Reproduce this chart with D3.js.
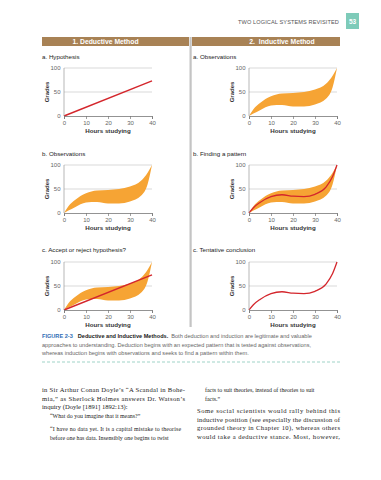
<!DOCTYPE html>
<html>
<head>
<meta charset="utf-8">
<script src="https://cdn.jsdelivr.net/npm/d3@7"></script>
<style>
  body { margin: 0; background: #fff; }
  svg { display: block; }
</style>
</head>
<body>
<script>
// values
var hours     = [0, 2, 5, 10, 15, 20, 25, 30, 35, 38, 40];
var obsUpper  = [0, 14, 27, 41, 47, 48, 50, 55, 67, 84, 100];
var obsLower  = [0, 5, 12, 22, 23, 20, 20, 24, 36, 60, 100];
var pattern   = [0, 11, 22, 34, 38, 35, 34, 39, 54, 76, 100];
var hypoHours = [0, 40];
var hypothesis = [0, 73];
var xTicks = [0, 10, 20, 30, 40];
var yTicks = [0, 50, 100];
var headers = ["1. Deductive Method", "2.  Inductive Method"];

// which layers each small chart shows
var panels = [
  {col: 0, row: 0, title: "a. Hypothesis", band: false, line: false, hyp: true},
  {col: 1, row: 0, title: "a. Observations", band: true, line: false, hyp: false},
  {col: 0, row: 1, title: "b. Observations", band: true, line: false, hyp: false},
  {col: 1, row: 1, title: "b. Finding a pattern", band: true, line: true, hyp: false},
  {col: 0, row: 2, title: "c. Accept or reject hypothesis?", band: true, line: false, hyp: true},
  {col: 1, row: 2, title: "c. Tentative conclusion", band: false, line: true, hyp: false}
];

var w = 381, h = 480;
var sans = "'Liberation Sans', Arial, sans-serif";
var serif = "'Liberation Serif', 'DejaVu Serif', serif";
var orange = "#f6a434", red = "#d4262c";

var svg = d3.select("body").append("svg")
  .attr("width", w).attr("height", h);

// running head
svg.append("text").attr("x", 339).attr("y", 23.5)
  .attr("text-anchor", "end").attr("font-family", sans)
  .attr("font-size", 5.6).attr("fill", "#555").attr("letter-spacing", 0.1)
  .text("TWO LOGICAL SYSTEMS REVISITED");
svg.append("rect").attr("x", 346).attr("y", 13).attr("width", 13).attr("height", 16)
  .attr("fill", "#7ecbb9");
svg.append("text").attr("x", 352.5).attr("y", 23.5).attr("text-anchor", "middle")
  .attr("font-family", sans).attr("font-size", 6.5).attr("font-weight", "bold")
  .attr("fill", "#fff").text("53");

// header bars
var colX = [42, 192], colW = [147, 148];
headers.forEach(function(t, i) {
  svg.append("rect").attr("x", colX[i]).attr("y", 37).attr("width", colW[i]).attr("height", 9)
    .attr("fill", "#a88255");
  svg.append("text").attr("x", colX[i] + colW[i] / 2 + (i ? 16 : -10)).attr("y", 44.2)
    .attr("text-anchor", "middle").attr("font-family", sans).attr("font-size", 6.8)
    .attr("font-weight", "bold").attr("fill", "#fff").attr("xml:space", "preserve").text(t);
});

// divider between the two columns
svg.append("rect").attr("x", 189.5).attr("y", 37).attr("width", 2.2).attr("height", 290)
  .attr("fill", "#c4c4c4");

var plotX = [64, 249], plotTop = [68, 165, 262], plotW = 88, plotH = 48;
var titleY = [58.5, 155.5, 251.5];

var x = d3.scaleLinear().domain([0, 40]).range([0, plotW]);
var y = d3.scaleLinear().domain([0, 100]).range([plotH, 0]);

var obs = hours.map(function(d, i) { return {x: d, lo: obsLower[i], hi: obsUpper[i], p: pattern[i]}; });
var hyp = hypoHours.map(function(d, i) { return {x: d, y: hypothesis[i]}; });

var area = d3.area().curve(d3.curveMonotoneX)
  .x(function(d) { return x(d.x); })
  .y0(function(d) { return y(d.lo); })
  .y1(function(d) { return y(d.hi); });
var patLine = d3.line().curve(d3.curveMonotoneX)
  .x(function(d) { return x(d.x); })
  .y(function(d) { return y(d.p); });
var hypLine = d3.line()
  .x(function(d) { return x(d.x); })
  .y(function(d) { return y(d.y); });

panels.forEach(function(p) {
  var ox = plotX[p.col], oy = plotTop[p.row];

  svg.append("text").attr("x", p.col ? 193 : 42).attr("y", titleY[p.row])
    .attr("font-family", sans).attr("font-size", 6.2).attr("fill", "#222").text(p.title);

  var g = svg.append("g").attr("transform", "translate(" + ox + "," + oy + ")");

  // gridlines at 50 and 100
  g.selectAll(".grid").data([50, 100]).enter().append("line")
    .attr("x1", 0).attr("x2", plotW)
    .attr("y1", function(d) { return y(d); }).attr("y2", function(d) { return y(d); })
    .attr("stroke", "#c9c9c9").attr("stroke-width", 0.7);

  if (p.band) g.append("path").datum(obs).attr("d", area).attr("fill", orange);
  if (p.line) g.append("path").datum(obs).attr("d", patLine)
    .attr("fill", "none").attr("stroke", red).attr("stroke-width", 1.3);
  if (p.hyp) g.append("path").datum(hyp).attr("d", hypLine)
    .attr("fill", "none").attr("stroke", red).attr("stroke-width", 1.4);

  // left axis line
  g.append("line").attr("x1", 0).attr("x2", 0).attr("y1", 0).attr("y2", plotH)
    .attr("stroke", "#999").attr("stroke-width", 0.7);

  var yAxis = d3.axisLeft(y).tickValues(yTicks).tickSize(0).tickPadding(3.5);
  var ya = g.append("g").call(yAxis);
  ya.select(".domain").remove();
  ya.selectAll("text").attr("font-family", sans).attr("font-size", 6).attr("fill", "#666");

  var xAxis = d3.axisBottom(x).tickValues(xTicks).tickSize(3).tickPadding(1.5);
  var xa = g.append("g").attr("transform", "translate(0," + plotH + ")").call(xAxis);
  xa.select(".domain").attr("stroke", "#777").attr("stroke-width", 0.8);
  xa.selectAll("line").attr("stroke", "#777").attr("stroke-width", 0.7);
  xa.selectAll("text").attr("font-family", sans).attr("font-size", 6).attr("fill", "#666");

  g.append("text").attr("x", plotW / 2).attr("y", plotH + 16.5).attr("text-anchor", "middle")
    .attr("font-family", sans).attr("font-size", 6.2).attr("font-weight", "bold").attr("fill", "#333")
    .text("Hours studying");
  g.append("text").attr("transform", "translate(-15.5," + (plotH / 2) + ") rotate(-90)")
    .attr("text-anchor", "middle").attr("font-family", sans).attr("font-size", 6)
    .attr("font-weight", "bold").attr("fill", "#333").text("Grades");
});

// caption
var cap = svg.append("text").attr("x", 42).attr("y", 338).attr("font-family", sans).attr("font-size", 5.6);
cap.append("tspan").attr("fill", "#2f6db5").attr("font-weight", "bold").text("FIGURE 2-3");
cap.append("tspan").attr("dx", 5).attr("fill", "#222").attr("font-weight", "bold").text("Deductive and Inductive Methods.");
cap.append("tspan").attr("dx", 3).attr("fill", "#666").text("Both deduction and induction are legitimate and valuable");
svg.append("text").attr("x", 42).attr("y", 346.5).attr("font-family", sans).attr("font-size", 5.6)
  .attr("fill", "#666").text("approaches to understanding. Deduction begins with an expected pattern that is tested against observations,");
svg.append("text").attr("x", 42).attr("y", 355).attr("font-family", sans).attr("font-size", 5.6)
  .attr("fill", "#666").text("whereas induction begins with observations and seeks to find a pattern within them.");

svg.append("line").attr("x1", 42).attr("x2", 340).attr("y1", 362).attr("y2", 362)
  .attr("stroke", "#9fd3c7").attr("stroke-width", 1).attr("stroke-dasharray", "3,2");

// body text
var body = [
  {x: 42, y: 392, t: "in Sir Arthur Conan Doyle\u2019s \u201cA Scandal in Bohe-", s: 6.6, len: 143},
  {x: 42, y: 400.5, t: "mia,\u201d as Sherlock Holmes answers Dr. Watson\u2019s", s: 6.6, len: 143},
  {x: 42, y: 409, t: "inquiry (Doyle [1891] 1892:13):", s: 6.6},
  {x: 50, y: 418, t: "\u201cWhat do you imagine that it means?\u201d", s: 5.9},
  {x: 50, y: 431, t: "\u201cI have no data yet. It is a capital mistake to theorise", s: 5.9, len: 131},
  {x: 50, y: 439.5, t: "before one has data. Insensibly one begins to twist", s: 5.9},
  {x: 205, y: 392, t: "facts to suit theories, instead of theories to suit", s: 5.9},
  {x: 205, y: 400.5, t: "facts.\u201d", s: 5.9},
  {x: 197, y: 413, t: "Some social scientists would rally behind this", s: 6.6, len: 143},
  {x: 197, y: 421.5, t: "inductive position (see especially the discussion of", s: 6.6, len: 143},
  {x: 197, y: 430, t: "grounded theory in Chapter 10), whereas others", s: 6.6, len: 143},
  {x: 197, y: 438.5, t: "would take a deductive stance. Most, however,", s: 6.6, len: 143}
];
body.forEach(function(b) {
  var t = svg.append("text").attr("x", b.x).attr("y", b.y).attr("font-family", serif)
    .attr("font-size", b.s).attr("fill", "#222").text(b.t);
  if (b.len) t.attr("textLength", b.len).attr("lengthAdjust", "spacing");
});
</script>
</body>
</html>
